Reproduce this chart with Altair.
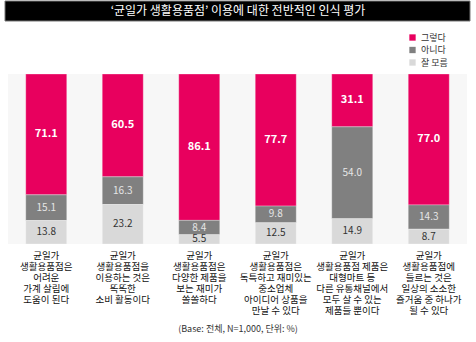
import altair as alt
import pandas as pd

FONT = "Noto Sans CJK KR"

categories = [
    "균일가\n생활용품점은\n어려운\n가계 살림에\n도움이 된다",
    "균일가\n생활용품점을\n이용하는 것은\n똑똑한\n소비 활동이다",
    "균일가\n생활용품점은\n다양한 제품을\n보는 재미가\n쏠쏠하다",
    "균일가\n생활용품점은\n독특하고 재미있는\n중소업체\n아이디어 상품을\n만날 수 있다",
    "균일가\n생활용품점 제품은\n대형마트 등\n다른 유통채널에서\n모두 살 수 있는\n제품들 뿐이다",
    "균일가\n생활용품점에\n들르는 것은\n일상의 소소한\n즐거움 중 하나가\n될 수 있다",
]
series = ["그렇다", "아니다", "잘 모름"]
yes_vals = [71.1, 60.5, 86.1, 77.7, 31.1, 77.0]
no_vals = [15.1, 16.3, 8.4, 9.8, 54.0, 14.3]
dk_vals = [13.8, 23.2, 5.5, 12.5, 14.9, 8.7]
colors = ["#e8005e", "#808080", "#d9d9d9"]

title_text = "‘균일가 생활용품점’ 이용에 대한 전반적인 인식 평가"
note_text = "(Base: 전체, N=1,000, 단위: %)"

rows = []
for i, c in enumerate(categories):
    for s, vals, o in zip(series, [yes_vals, no_vals, dk_vals], [2, 1, 0]):
        rows.append({"cat": c, "series": s, "value": vals[i], "ord": o})
df = pd.DataFrame(rows)

W, H = 459, 170

base = alt.Chart(df)

xenc = alt.X(
    "cat:N", sort=categories, title=None,
    scale=alt.Scale(paddingInner=0.464, paddingOuter=0.232),
    axis=alt.Axis(
        labelAngle=0, domain=False, ticks=False, labelPadding=6,
        labelExpr="split(datum.label, '\\n')", labelFont=FONT,
        labelFontSize=9.5, labelColor="#111111", labelLineHeight=11,
        labelLimit=0, labelOverlap=False, labelBound=False, labelBaseline="top",
    ),
)

bars = base.mark_bar(stroke="white", strokeWidth=0.5, strokeOpacity=0.6).encode(
    x=xenc,
    y=alt.Y("value:Q", stack="zero", scale=alt.Scale(domain=[0, 100]), axis=None),
    color=alt.Color(
        "series:N",
        scale=alt.Scale(domain=series, range=colors),
        legend=alt.Legend(
            title=None, orient="none", legendX=400, legendY=-41,
            symbolType="square", symbolSize=40, symbolStrokeWidth=0,
            labelFont=FONT, labelFontSize=9, labelColor="#333333",
            rowPadding=2.5, padding=0, labelOffset=4,
        ),
    ),
    order=alt.Order("ord:Q"),
)

stacked = base.transform_stack(
    stack="value", groupby=["cat"], as_=["y0", "y1"],
    sort=[alt.SortField("ord", order="ascending")],
).transform_calculate(mid="(datum.y0 + datum.y1) / 2")

yes_lbl = stacked.transform_filter(alt.datum.series == "그렇다").mark_text(
    font=FONT, fontSize=11, fontWeight="bold", color="white"
).encode(
    x=alt.X("cat:N", sort=categories),
    y=alt.Y("mid:Q", scale=alt.Scale(domain=[0, 100])),
    text=alt.Text("value:Q", format=".1f"),
)
no_lbl = stacked.transform_filter(alt.datum.series == "아니다").mark_text(
    font=FONT, fontSize=10, color="#e6e6e6"
).encode(
    x=alt.X("cat:N", sort=categories),
    y=alt.Y("mid:Q", scale=alt.Scale(domain=[0, 100])),
    text=alt.Text("value:Q", format=".1f"),
)
dk_lbl = stacked.transform_filter(alt.datum.series == "잘 모름").mark_text(
    font=FONT, fontSize=10, color="#333333"
).encode(
    x=alt.X("cat:N", sort=categories),
    y=alt.Y("mid:Q", scale=alt.Scale(domain=[0, 100])),
    text=alt.Text("value:Q", format=".1f"),
)

one = alt.Data(values=[{"k": 1}])
title_box = alt.Chart(one).mark_rect(color="black", stroke="#777777", strokeWidth=1).encode(
    x=alt.value(-3), x2=alt.value(462), y=alt.value(-73), y2=alt.value(-53)
)
title_txt = alt.Chart(one).mark_text(
    text=title_text, font=FONT, fontSize=12, color="white", baseline="middle", align="center"
).encode(x=alt.value(230), y=alt.value(-63))
note_txt = alt.Chart(one).mark_text(
    text=note_text, font=FONT, fontSize=9, color="#333333", baseline="middle", align="center"
).encode(x=alt.value(230), y=alt.value(255))

chart = alt.layer(
    bars, yes_lbl, no_lbl, dk_lbl, title_box, title_txt, note_txt
).properties(
    width=W, height=H,
    autosize=alt.AutoSizeParams(type="none"),
    padding={"left": 8, "top": 74, "right": 9, "bottom": 98},
    background="white",
).configure_view(stroke=None, fill="#f7f7f7")

chart.save("out.html", embed_options={"renderer": "svg", "actions": False})
